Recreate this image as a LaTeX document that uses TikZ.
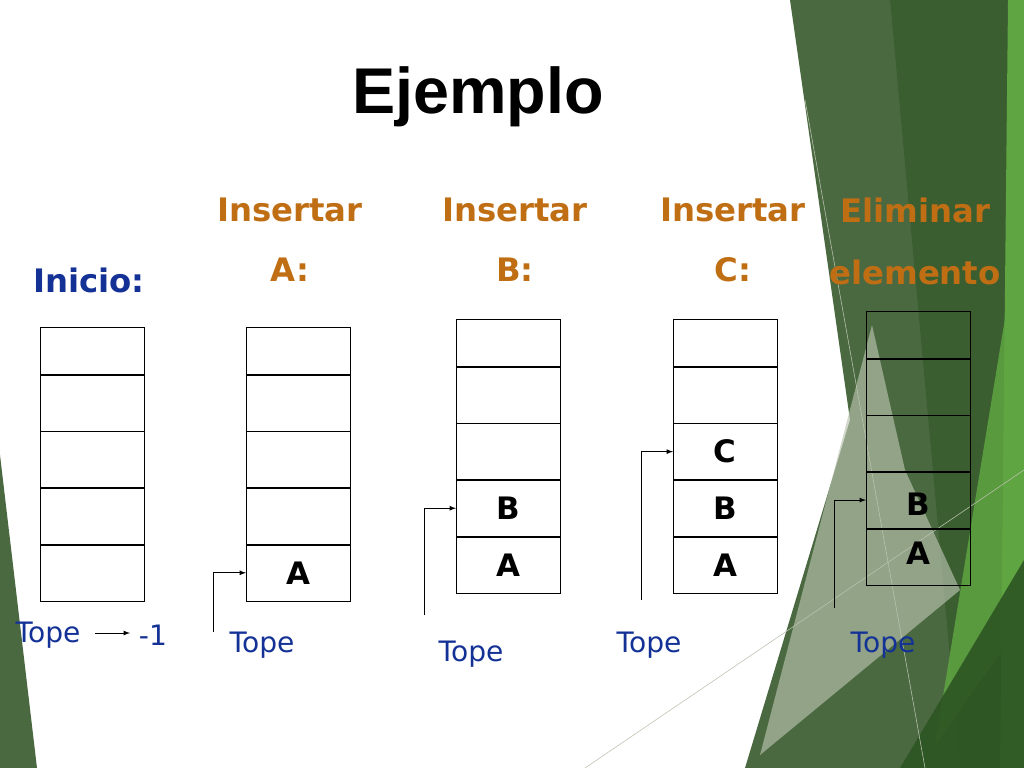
\documentclass[tikz,border=0pt]{standalone}
\usepackage{fontspec}
\setmainfont{DejaVu Sans}
\newfontfamily\titlefont{Liberation Sans}
\usetikzlibrary{positioning, calc}
\definecolor{orng}{RGB}{192, 110, 20}
\definecolor{tblue}{RGB}{20, 50, 150}
\definecolor{gdark}{RGB}{75, 105, 65}
\definecolor{glight}{RGB}{185, 195, 175}
\definecolor{gbright}{RGB}{95, 165, 65}
\definecolor{gdeep}{RGB}{45, 85, 35}
\tikzset{
    topcell/.style = {draw, rectangle, inner sep=0em, minimum width=2.6cm, minimum height=1.18cm, anchor=north west, font=\fontsize{22}{22}\selectfont\bfseries},
    cellnode/.style = {draw, rectangle, inner sep=0em, minimum width=2.6cm, minimum height=1.4cm, anchor=north, font=\fontsize{22}{22}\selectfont\bfseries},
    headnode/.style = {textnode, text=orng, font=\fontsize{23}{23}\selectfont\bfseries},
    topenode/.style = {textnode, text=tblue, font=\fontsize{20}{20}\selectfont},
    lettnode/.style = {textnode, font=\fontsize{22}{22}\selectfont\bfseries},
    textnode/.style = {draw=none, fill=none, rectangle, inner sep=0em},
    connect/.style = {black, -latex, semithick}
}
\begin{document}
\begin{tikzpicture}[x=0.025cm, y=-0.025cm]
    \useasboundingbox (0,0) rectangle (1024,768);
    % background
    \fill[gdark] (0,455) -- (37,768) -- (0,768) -- cycle;
    \fill[gdark] (790,0) -- (1024,0) -- (1024,768) -- (745,768) -- (850,420) -- cycle;
    \fill[gdeep, opacity=0.5] (890,0) -- (1024,0) -- (1024,768) -- (960,768) -- cycle;
    \fill[glight, opacity=0.65] (872,325) -- (905,470) -- (960,590) -- (760,755) -- cycle;
    \fill[gbright] (1008,0) -- (1024,0) -- (1024,768) -- (1000,768) -- cycle;
    \fill[gbright, opacity=0.85] (935,745) -- (1008,300) -- (1024,620) -- cycle;
    \fill[gdeep, opacity=0.9] (900,768) -- (1024,560) -- (1024,768) -- cycle;
    \draw[glight, thin] (805,100) -- (925,768);
    \draw[glight, thin] (585,768) -- (1024,470);

    % title and headings
    \node[name=title, textnode, font=\titlefont\fontsize{46}{46}\selectfont\bfseries] at (478,97) {Ejemplo};
    \node[name=inicio, textnode, text=tblue, font=\fontsize{23}{23}\selectfont\bfseries] at (89,280) {Inicio:};
    \node[name=insA, headnode] at (290,210) {Insertar};
    \node[name=insAl, headnode] at (290,270) {A:};
    \node[name=insB, headnode] at (515,210) {Insertar};
    \node[name=insBl, headnode] at (515,270) {B:};
    \node[name=insC, headnode] at (733,210) {Insertar};
    \node[name=insCl, headnode] at (733,270) {C:};
    \node[name=elim, headnode] at (915,210) {Eliminar};
    \node[name=eliml, headnode] at (915,272) {elemento};

    % stacks
    \node[name=s1c1, topcell] at (40,327) {};
    \node[name=s2c1, topcell] at (246,327) {};
    \node[name=s3c1, topcell] at (456,319) {};
    \node[name=s4c1, topcell] at (673,319) {};
    \node[name=s5c1, topcell] at (866,311) {};
    \foreach \s in {1,...,5} {
        \node[name=s\s c2, cellnode] at (s\s c1.south) {};
        \node[name=s\s c3, cellnode] at (s\s c2.south) {};
        \node[name=s\s c4, cellnode] at (s\s c3.south) {};
        \node[name=s\s c5, cellnode] at (s\s c4.south) {};
    }
    \node[lettnode] at (s2c5) {A};
    \node[lettnode] at (s3c4) {B};
    \node[lettnode] at (s3c5) {A};
    \node[lettnode] at (s4c3) {C};
    \node[lettnode] at (s4c4) {B};
    \node[lettnode] at (s4c5) {A};
    \node[lettnode, yshift=-0.1cm] at (s5c4) {B};
    \node[lettnode, yshift=0.1cm] at (s5c5) {A};

    % tope
    \node[name=tope1, topenode] at (48,635) {Tope};
    \node[name=minus, topenode] at (153,635) {-1};
    \coordinate (a1) at (95,633);
    \draw[connect] (a1) -- (130,633);
    \node[name=tope2, topenode] at (262,645) {Tope};
    \node[name=tope3, topenode] at (471,654) {Tope};
    \node[name=tope4, topenode] at (649,645) {Tope};
    \node[name=tope5, topenode] at (883,645) {Tope};
    \coordinate (p2) at (213,632);
    \coordinate (p3) at (424,615);
    \coordinate (p4) at (641,600);
    \coordinate (p5) at (834,608);
    \draw[connect] (p2) |- (s2c5.west);
    \draw[connect] (p3) |- (s3c4.west);
    \draw[connect] (p4) |- (s4c3.west);
    \draw[connect] (p5) |- ($(s5c4.west)+(0,-0.15)$);
\end{tikzpicture}
\end{document}
